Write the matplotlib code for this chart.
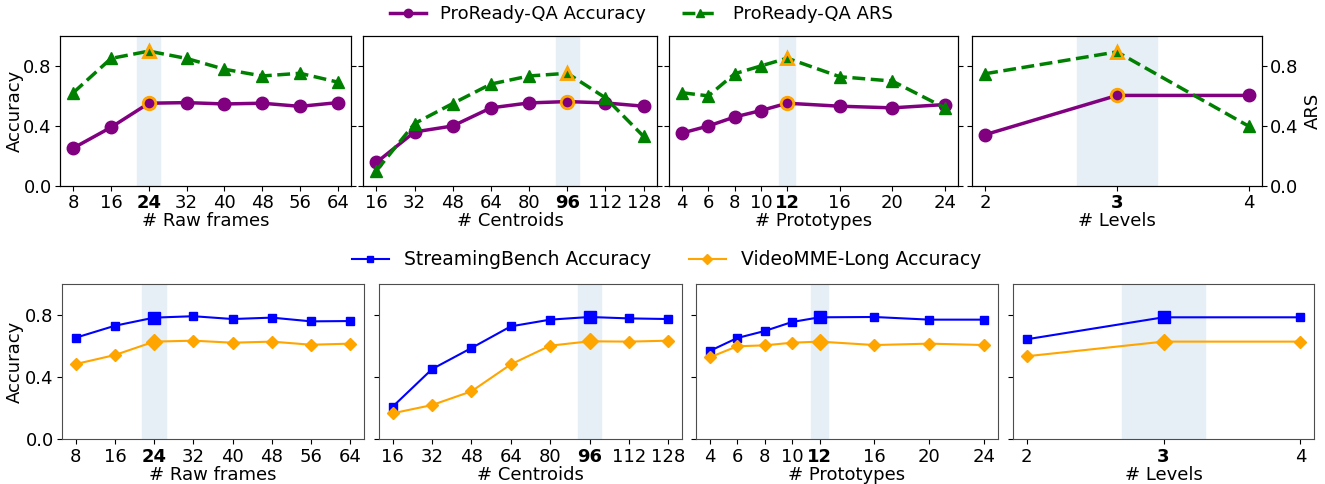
import numpy as np
import matplotlib.pyplot as plt
from matplotlib.lines import Line2D

# x values per ablation
frames = [8, 16, 24, 32, 40, 48, 56, 64]
centroids = [16, 32, 48, 64, 80, 96, 112, 128]
prototypes = [4, 6, 8, 10, 12, 16, 20, 24]
levels = [2, 3, 4]
xlabels = ['# Raw frames', '# Centroids', '# Prototypes', '# Levels']
best = [24, 96, 12, 3]
steps = [8, 16, 2, 1]

# ProReady-QA (top row)
acc_frames = [0.251, 0.39, 0.551, 0.555, 0.546, 0.551, 0.53, 0.555]
ars_frames = [0.621, 0.85, 0.899, 0.85, 0.778, 0.733, 0.751, 0.692]
acc_centroids = [0.155, 0.359, 0.399, 0.52, 0.553, 0.562, 0.553, 0.531]
ars_centroids = [0.10, 0.415, 0.549, 0.679, 0.733, 0.751, 0.587, 0.329]
acc_prototypes = [0.352, 0.399, 0.459, 0.502, 0.551, 0.531, 0.52, 0.542]
ars_prototypes = [0.621, 0.60, 0.748, 0.80, 0.852, 0.728, 0.699, 0.52]
acc_levels = [0.341, 0.603, 0.603]
ars_levels = [0.748, 0.894, 0.397]

# StreamingBench / VideoMME-Long (bottom row)
sb_frames = [0.652, 0.729, 0.781, 0.79, 0.772, 0.781, 0.757, 0.759]
vm_frames = [0.483, 0.541, 0.627, 0.633, 0.62, 0.627, 0.607, 0.614]
sb_centroids = [0.21, 0.451, 0.586, 0.725, 0.768, 0.785, 0.776, 0.772]
vm_centroids = [0.167, 0.22, 0.308, 0.481, 0.601, 0.629, 0.627, 0.633]
sb_prototypes = [0.567, 0.65, 0.695, 0.753, 0.783, 0.785, 0.768, 0.768]
vm_prototypes = [0.526, 0.597, 0.603, 0.62, 0.627, 0.605, 0.614, 0.605]
sb_levels = [0.642, 0.783, 0.783]
vm_levels = [0.533, 0.627, 0.627]

xs = [frames, centroids, prototypes, levels]
acc = [acc_frames, acc_centroids, acc_prototypes, acc_levels]
ars = [ars_frames, ars_centroids, ars_prototypes, ars_levels]
sb = [sb_frames, sb_centroids, sb_prototypes, sb_levels]
vm = [vm_frames, vm_centroids, vm_prototypes, vm_levels]

plt.rcParams['font.family'] = 'DejaVu Sans'
fig = plt.figure(figsize=(13.25, 4.84), dpi=100)

top_pos = [(60, 291), (363, 294), (669, 289), (972, 290)]
bot_pos = [(62, 302), (379, 303), (696, 302), (1013, 301)]
W, H = 1325.0, 484.0
band = '#e6eef6'
fs = 13


def set_ticks(ax, x, b):
    ax.set_xticks(x)
    labs = ax.set_xticklabels([str(v) for v in x], fontsize=fs)
    for v, t in zip(x, labs):
        if v == b:
            t.set_fontweight('bold')
    ax.tick_params(axis='x', pad=2.5)
    ax.tick_params(axis='y', pad=2.5)


# Top row
for i in range(4):
    l, w = top_pos[i]
    ax = fig.add_axes([l / W, 1 - 185.7 / H, w / W, 149.7 / H])
    x = xs[i]
    b = best[i]
    k = x.index(b)
    ax.axvspan(b - 0.3 * steps[i], b + 0.3 * steps[i], color=band, zorder=0)
    ax.plot(x, acc[i], color='purple', lw=2.5, marker='o', ms=9, zorder=3)
    ax.plot([b], [acc[i][k]], ls='none', marker='o', ms=9, color='purple',
            mec='orange', mew=2, zorder=4)
    ax.set_ylim(0, 1.0)
    ax.set_yticks([0.0, 0.4, 0.8])
    if i == 0:
        ax.set_yticklabels(['0.0', '0.4', '0.8'], fontsize=fs)
        ax.set_ylabel('Accuracy', fontsize=fs)
        ax.yaxis.set_label_coords(-0.124, 0.5)
    else:
        ax.set_yticklabels([])
    set_ticks(ax, x, b)
    ax.set_xlabel(xlabels[i], fontsize=fs, labelpad=0)
    ax2 = ax.twinx()
    ax2.plot(x, ars[i], color='green', lw=2.5, ls='--', marker='^', ms=9, zorder=3)
    ax2.plot([b], [ars[i][k]], ls='none', marker='^', ms=9, color='green',
             mec='orange', mew=2, zorder=4)
    ax2.set_ylim(0, 1.0)
    ax2.set_yticks([0.0, 0.4, 0.8])
    ax2.tick_params(axis='y', pad=2)
    if i == 3:
        ax2.set_yticklabels(['0.0', '0.4', '0.8'], fontsize=fs)
        ax2.set_ylabel('ARS', fontsize=fs)
        ax2.yaxis.set_label_coords(1.145, 0.5)
    else:
        ax2.set_yticklabels([])

# Bottom row
for i in range(4):
    l, w = bot_pos[i]
    ax = fig.add_axes([l / W, 1 - 439.3 / H, w / W, 155.8 / H])
    x = xs[i]
    b = best[i]
    k = x.index(b)
    ax.axvspan(b - 0.3 * steps[i], b + 0.3 * steps[i], color=band, zorder=0)
    ax.plot(x, sb[i], color='blue', lw=1.5, marker='s', ms=6, zorder=3)
    ax.plot([b], [sb[i][k]], ls='none', marker='s', ms=9, color='blue', zorder=4)
    ax.plot(x, vm[i], color='orange', lw=1.5, marker='D', ms=6, zorder=3)
    ax.plot([b], [vm[i][k]], ls='none', marker='D', ms=8, color='orange', zorder=4)
    ax.set_ylim(0, 1.0)
    ax.set_yticks([0.0, 0.4, 0.8])
    if i == 0:
        ax.set_yticklabels(['0.0', '0.4', '0.8'], fontsize=fs)
        ax.set_ylabel('Accuracy', fontsize=fs)
        ax.yaxis.set_label_coords(-0.126, 0.5)
    else:
        ax.set_yticklabels([])
    set_ticks(ax, x, b)
    ax.set_xlabel(xlabels[i], fontsize=fs, labelpad=0)
    for s in ax.spines.values():
        s.set_color('0.3')

top_handles = [
    Line2D([], [], color='purple', lw=2.5, marker='o', ms=6, label='ProReady-QA Accuracy'),
    Line2D([], [], color='green', lw=2.5, ls='--', marker='^', ms=6, label='ProReady-QA ARS'),
]
fig.legend(handles=top_handles, loc='center', bbox_to_anchor=(0.484, 0.971), ncol=2,
           frameon=False, fontsize=13, columnspacing=2.0)

bot_handles = [
    Line2D([], [], color='blue', lw=1.5, marker='s', ms=5, label='StreamingBench Accuracy'),
    Line2D([], [], color='orange', lw=1.5, marker='D', ms=5, label='VideoMME-Long Accuracy'),
]
fig.legend(handles=bot_handles, loc='center', bbox_to_anchor=(0.503, 0.463), ncol=2,
           frameon=False, fontsize=13.5, columnspacing=2.0)

fig.savefig('out.png', dpi=100)
